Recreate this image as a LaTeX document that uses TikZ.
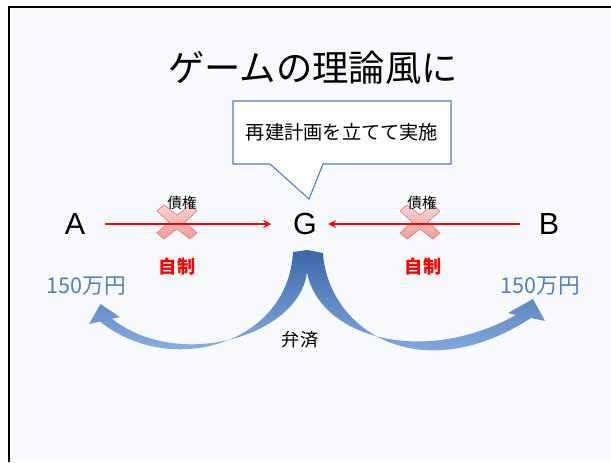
\documentclass[tikz,border=0pt]{standalone}
\usepackage{fontspec}
\setmainfont{Liberation Sans}
\newfontfamily\jpfont{Noto Sans CJK JP}
\usetikzlibrary{arrows.meta,positioning,calc}
\definecolor{slidebg}{HTML}{F8FAFD}
\definecolor{boxblue}{HTML}{4A7EBB}
\definecolor{amountblue}{HTML}{4F81BD}
\definecolor{crosstop}{HTML}{FCD3D3}
\definecolor{crossbot}{HTML}{F29A9A}
\definecolor{crossedge}{HTML}{E28484}
\definecolor{flowtop}{HTML}{3A68A8}
\definecolor{flowbot}{HTML}{9DC1F2}
\tikzset{
    x=0.03cm, y=-0.03cm,
    frame/.style = {line width=2pt, black},
    title/.style = {font=\jpfont\fontsize{31}{31}\selectfont, inner sep=0pt},
    speechbox/.style = {draw=boxblue, fill=white, line width=0.9pt, line join=miter},
    speech/.style = {font=\jpfont\fontsize{16.4}{16.4}\selectfont, inner sep=0pt},
    letter/.style = {font=\fontsize{26}{26}\selectfont, inner sep=0pt},
    credit/.style = {red, line width=1.2pt, -{Stealth[length=7pt,width=7pt,inset=2.5pt]}},
    claim/.style = {font=\jpfont\fontsize{12.5}{12.5}\selectfont, inner sep=0pt},
    restraint/.style = {font=\jpfont\bfseries\fontsize{15.5}{15.5}\selectfont, text=red, inner sep=0pt},
    amount/.style = {font=\jpfont\fontsize{18.5}{18.5}\selectfont, text=amountblue, inner sep=0pt},
    repay/.style = {font=\jpfont\fontsize{15.5}{15.5}\selectfont, inner sep=0pt},
    flow/.style = {top color=flowtop, bottom color=flowbot},
    nocross/.pic = {
        \shadedraw[top color=crosstop, bottom color=crossbot, draw=crossedge, line width=0.6pt]
        (0,-7) -- (13,-17) -- (20,-11) -- (8,0) -- (20,11) -- (13,17) -- (0,7)
        -- (-13,17) -- (-20,11) -- (-8,0) -- (-20,-11) -- (-13,-17) -- cycle;
    }
}

\begin{document}
\begin{tikzpicture}
    % slide
    \fill[white] (0,0) rectangle (611,462);
    \useasboundingbox (0,0) rectangle (611,462);
    \fill[slidebg] (9,7) rectangle (611,462);
    \draw[frame] (9,462) -- (9,7) -- (611,7);

    \node[title] (title) at (313,68) {ゲームの理論風に};

    % speech bubble
    \draw[speechbox] (233,101) -- (451,101) -- (451,164) -- (323,164) -- (309,199)
        -- (270,164) -- (233,164) -- cycle;
    \node[speech] (plan) at (342,132) {再建計画を立てて実施};

    \node[letter] (A) at (75,224) {A};
    \node[letter] (G) at (305,224) {G};
    \node[letter] (B) at (549,224) {B};

    \pic at (177,222) {nocross};
    \pic at (420,222) {nocross};

    \draw[credit, shorten <=0.6cm, shorten >=0.65cm] (A) -- (G);
    \draw[credit, shorten <=0.57cm, shorten >=0.33cm] (B) -- (G);

    \node[claim] (claimA) at (182,203) {債権};
    \node[claim] (claimB) at (422,203) {債権};
    \node[restraint] (selfA) at (177,267) {自制};
    \node[restraint] (selfB) at (423,267) {自制};
    \node[amount] (payA) at (86,286) {150万円};
    \node[amount] (payB) at (540,286) {150万円};

    % repayment arrows
    \shade[flow] (293,252) .. controls (288,345) and (170,378) .. (100,321.5) -- (89,324)
        -- (100.5,304) -- (120,317) -- (112,318.75) .. controls (180,372) and (300,335) .. (307,272)
        -- (307,250) -- cycle;
    \shade[flow] (307,250) -- (323,253) .. controls (328,330) and (420,390) .. (531,318)
        -- (545,321) -- (533,299) -- (508,313) -- (516,315) .. controls (420,368) and (318,335) .. (307,272)
        -- cycle;
    \node[repay] (repay) at (300,340) {弁済};
\end{tikzpicture}
\end{document}
